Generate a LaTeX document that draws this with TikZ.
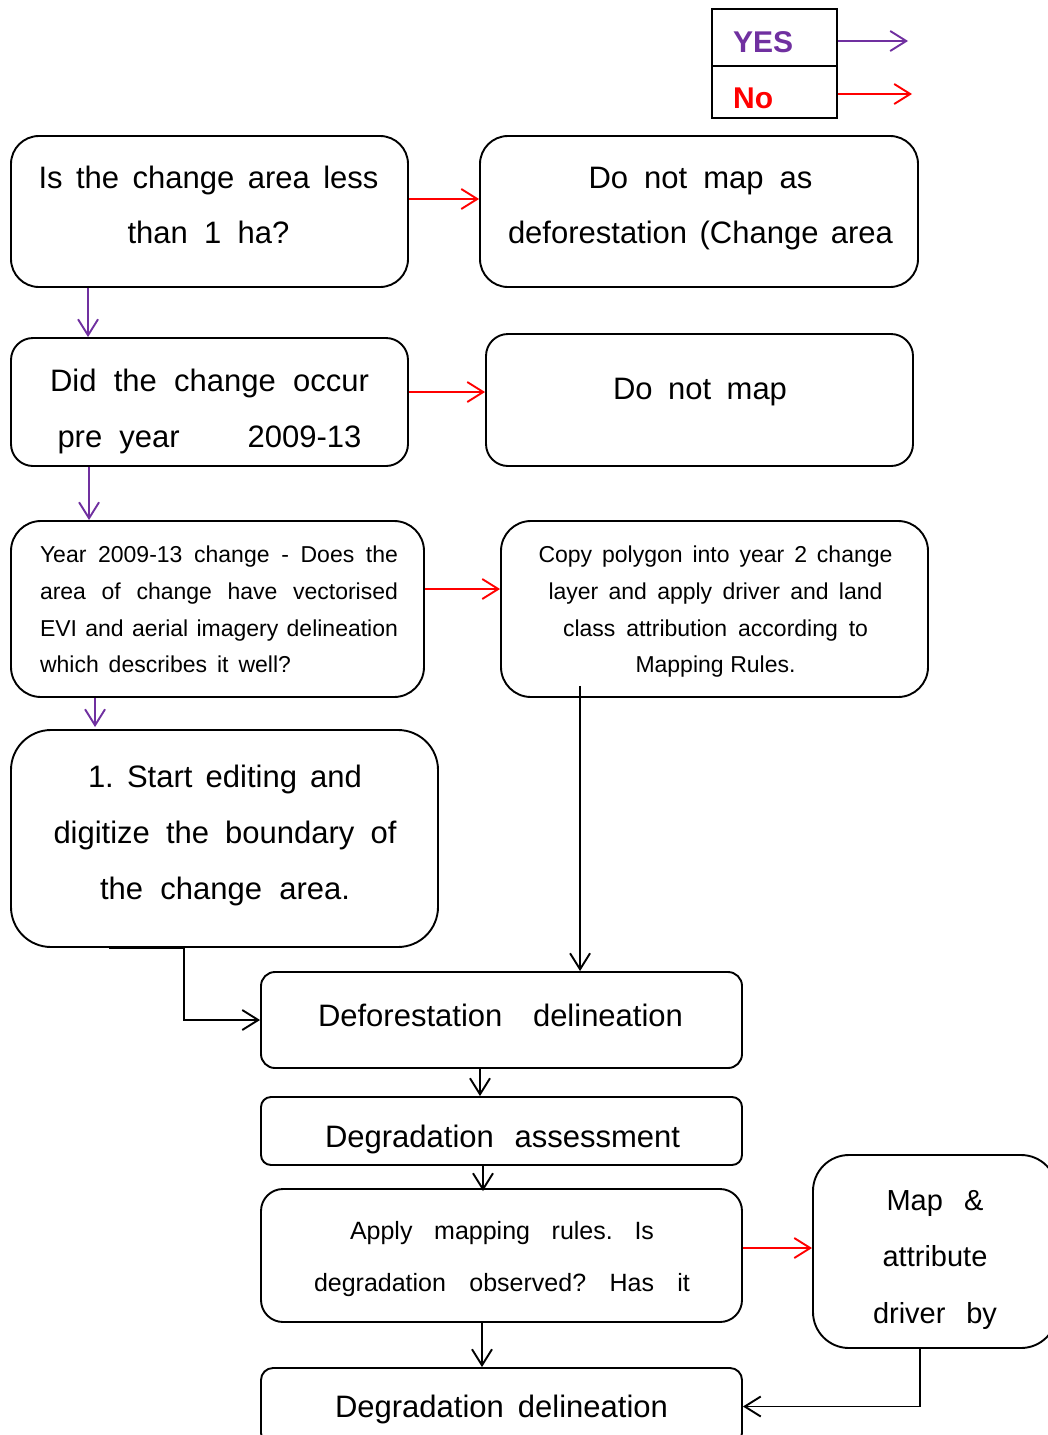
\documentclass[tikz,border=0pt]{standalone}
\usepackage{fontspec}
\setmainfont{Liberation Sans}
\usetikzlibrary{arrows.meta}
\definecolor{ypurple}{HTML}{7030A0}
\definecolor{nred}{HTML}{FF0000}
\newcommand{\JL}[2]{\makebox[#1pt][s]{\strut #2}}
\newcommand{\fs}[2]{\fontsize{#1pt}{#2pt}\selectfont}
\frenchspacing
\begin{document}
\begin{tikzpicture}[x=1pt,y=-1pt,
  box/.style={draw=black, line width=1.9pt, rectangle, inner sep=0pt},
  txt/.style={inner sep=0pt, align=center},
  tipped/.style={-{Straight Barb[length=16pt,width=20pt]}, line width=1.9pt},
  yesarr/.style={tipped, draw=ypurple},
  noarr/.style={tipped, draw=nred},
  blkarr/.style={tipped, draw=black},
]
\useasboundingbox (0,0) rectangle (1047,1435);
\fill[white] (0,0) rectangle (1047,1435);

% legend
\node[box, minimum width=125pt, minimum height=57pt] (yes) at (774.5,37.5) {};
\node[box, minimum width=125pt, minimum height=52pt] (no) at (774.5,92) {};
\node[anchor=west, inner sep=0pt, font=\fs{30}{36}\bfseries, text=ypurple] (yest) at (733,42) {YES};
\node[anchor=west, inner sep=0pt, font=\fs{30}{36}\bfseries, text=nred] (not) at (733,98) {No};
\coordinate (yesend) at (908,41);
\coordinate (noend) at (912,94);
\draw[yesarr] (yes.east |- yesend) -- (yesend);
\draw[noarr] (no.east |- noend) -- (noend);

% boxes
\node[box, rounded corners=28pt, minimum width=397pt, minimum height=151pt] (A) at (209.5,211.5) {};
\node[box, rounded corners=28pt, minimum width=438pt, minimum height=151pt] (B) at (699,211.5) {};
\node[box, rounded corners=22pt, minimum width=397pt, minimum height=128pt] (C) at (209.5,402) {};
\node[box, rounded corners=22pt, minimum width=427pt, minimum height=132pt] (D) at (699.5,400) {};
\node[box, rounded corners=30pt, minimum width=413pt, minimum height=176pt] (E) at (217.5,609) {};
\node[box, rounded corners=30pt, minimum width=427pt, minimum height=176pt] (F) at (714.5,609) {};
\node[box, rounded corners=40pt, minimum width=427pt, minimum height=217pt] (G) at (224.5,838.5) {};
\node[box, rounded corners=14pt, minimum width=481pt, minimum height=96pt] (H) at (501.5,1020) {};
\node[box, rounded corners=10pt, minimum width=481pt, minimum height=68pt] (I) at (501.5,1131) {};
\node[box, rounded corners=22pt, minimum width=481pt, minimum height=133pt] (J) at (501.5,1255.5) {};
\node[box, rounded corners=36pt, minimum width=244pt, minimum height=193pt] (K) at (935,1251.5) {};
\node[box, rounded corners=12pt, minimum width=481pt, minimum height=77pt] (L) at (501.5,1406.5) {};

% texts
\node[txt, font=\fs{31}{55}] (At) at ([xshift=-1pt,yshift=7pt]A.center)
  {\JL{340}{Is the change area less}\\\JL{162}{than 1 ha?}};
\node[txt, font=\fs{31}{55}] (Bt) at ([xshift=1.5pt,yshift=7pt]B.center)
  {\JL{224}{Do not map as}\\\JL{385}{deforestation (Change area}};
\node[txt, font=\fs{31}{56}] (Ct) at ([yshift=-6pt]C.center)
  {\JL{319}{Did the change occur}\\\makebox[304pt]{\strut pre\hspace{0.55em}year\hfill 2009-13}};
\node[txt, font=\fs{31}{55}] (Dt) at ([xshift=0.5pt,yshift=12pt]D.center)
  {\JL{174}{Do not map}};
\node[txt, font=\fs{23}{36.7}] (Et) at ([xshift=1.5pt,yshift=-1.5pt]E.center)
  {\JL{358}{Year 2009-13 change - Does the}\\
   \JL{358}{area of change have vectorised}\\
   \JL{358}{EVI and aerial imagery delineation}\\
   \makebox[358pt][l]{\JL{251}{which describes it well?}}};
\node[txt, font=\fs{23}{36.7}] (Ft) at ([xshift=1pt,yshift=-1.5pt]F.center)
  {\JL{354}{Copy polygon into year 2 change}\\
   \JL{334}{layer and apply driver and land}\\
   \JL{305}{class attribution according to}\\
   \JL{160}{Mapping Rules.}};
\node[txt, font=\fs{31}{56}] (Gt) at ([xshift=0.5pt,yshift=6.5pt]G.center)
  {\JL{274}{1. Start editing and}\\\JL{343}{digitize the boundary of}\\\JL{250}{the change area.}};
\node[txt, font=\fs{31}{55}] (Ht) at ([xshift=-1pt,yshift=5pt]H.center)
  {\JL{365}{Deforestation delineation}};
\node[txt, font=\fs{31}{55}] (It) at ([xshift=1pt,yshift=-5pt]I.center)
  {\JL{355}{Degradation assessment}};
\node[txt, font=\fs{25}{52}] (Jt) at ([xshift=0.5pt]J.center)
  {\JL{304}{Apply mapping rules. Is}\\\JL{376}{degradation observed? Has it}};
\node[txt, font=\fs{29}{56.5}] (Kt) at ([yshift=-4pt]K.center)
  {\JL{97}{Map \&}\\\strut attribute\\\JL{124}{driver by}};
\node[txt, font=\fs{31}{55}] (Lt) at (L.center)
  {\JL{333}{Degradation delineation}};

% connectors: yes (purple)
\coordinate (a1) at ([xshift=78pt]A.south west);
\coordinate (c0) at ([xshift=78pt]C.north west);
\draw[yesarr] (a1) -- (c0);
\coordinate (c1) at ([xshift=79pt]C.south west);
\coordinate (e0) at ([xshift=79pt]E.north west);
\draw[yesarr] (c1) -- (e0);
\coordinate (e1) at ([xshift=85pt]E.south west);
\coordinate (g0) at ([xshift=85pt,yshift=2pt]G.north west);
\draw[yesarr] (e1) -- (g0);

% connectors: no (red)
\coordinate (a2) at ([yshift=12.5pt]A.east);
\draw[noarr] (a2) -- (a2 -| B.west);
\coordinate (c2) at ([yshift=10pt]C.east);
\draw[noarr] (c2) -- (c2 -| D.west);
\coordinate (e2) at ([yshift=20pt]E.east);
\draw[noarr] (e2) -- (e2 -| F.west);
\coordinate (j2) at ([yshift=7.5pt]J.east);
\draw[noarr] (j2) -- (j2 -| K.west);

% connectors: black
\coordinate (fstart) at ([xshift=80pt,yshift=12pt]F.south west);
\draw[blkarr] (fstart) -- (fstart |- H.north);
\coordinate (gstart) at ([xshift=99pt]G.south west);
\coordinate (gbend) at ([xshift=174pt]G.south west);
\draw[blkarr] (gstart) -- (gbend) |- (H.west);
\coordinate (h1) at ([xshift=-21.5pt]H.south);
\draw[blkarr] (h1) -- (h1 |- I.north);
\coordinate (i1) at ([xshift=-18.5pt]I.south);
\draw[blkarr] (i1) -- ([yshift=-3pt]i1 |- J.north);
\coordinate (j1) at ([xshift=-19.5pt]J.south);
\draw[blkarr] (j1) -- (j1 |- L.north);
\coordinate (kstart) at ([xshift=-15pt]K.south);
\draw[blkarr] (kstart) |- (L.east);
\end{tikzpicture}
\end{document}
